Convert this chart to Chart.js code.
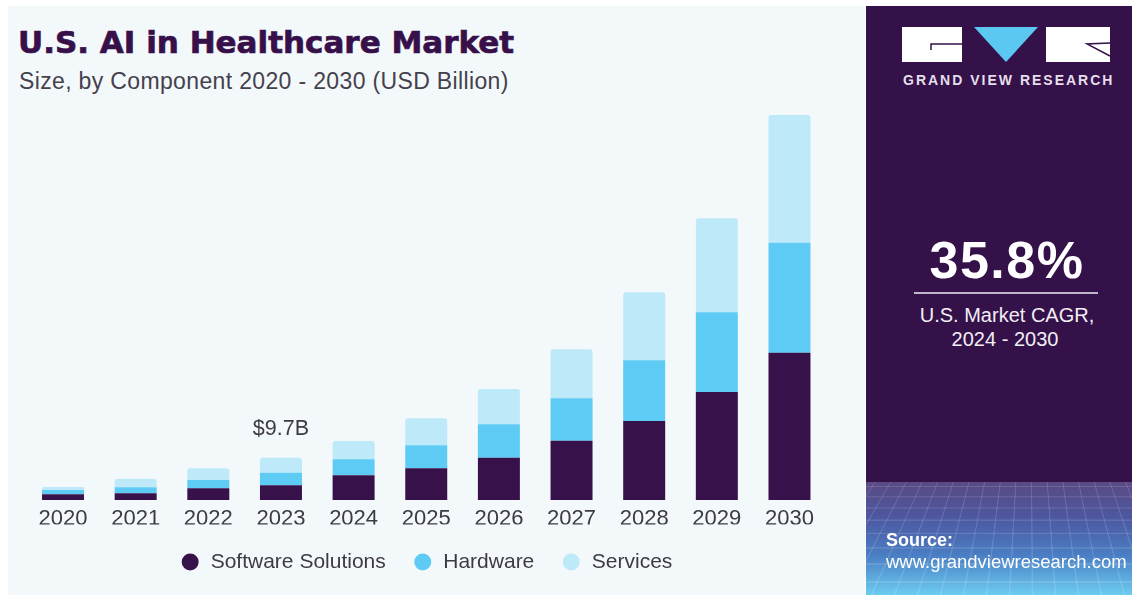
<!DOCTYPE html>
<html>
<head>
<meta charset="utf-8">
<script src="https://cdn.jsdelivr.net/npm/chart.js@4"></script>
<style>
  html, body { margin: 0; padding: 0; background: #fff; }
  body { width: 1132px; height: 595px; position: relative; overflow: hidden; font-family: "Liberation Sans", Arial, sans-serif; }
  #bg { position: absolute; left: 8px; top: 6px; width: 857px; height: 589px; background: #f3f8fb; }
  #title { position: absolute; left: 18px; top: 27px; font: bold 31px/31px "DejaVu Sans", sans-serif;
    color: #37104a; -webkit-text-stroke: 0.7px #37104a; white-space: nowrap; }
  #subtitle { position: absolute; left: 19px; top: 70px; font: 23px/23px "Liberation Sans", Arial, sans-serif; letter-spacing: 0.35px; color: #45414b; white-space: nowrap; }
  #chart { position: absolute; left: 8px; top: 100px; }
  #panel { position: absolute; left: 866px; top: 6px; width: 266px; height: 589px; background: #35114a; overflow: hidden; color: #fff; }
  #panel .t { position: absolute; white-space: nowrap; line-height: 1; }
  #brand { left: 37px; top: 67px; font: bold 14px/14px "Liberation Sans", Arial, sans-serif; letter-spacing: 2px; color: #e4dfea; }
  #cagr { left: 141px; top: 228px; transform: translateX(-50%); font: bold 52px/52px "Liberation Sans", Arial, sans-serif; letter-spacing: 1.5px; }
  #rule { position: absolute; left: 48px; top: 286px; width: 184px; height: 2px; background: #bfb6cb; }
  .sub { font: 20px/20px "Liberation Sans", Arial, sans-serif; color: #f1eef4; transform: translateX(-50%); }
  #floor { position: absolute; left: 0; top: 476px; width: 266px; height: 113px; overflow: hidden;
    background: linear-gradient(#5a4a84 0%, #4d569f 30%, #4a7ec4 65%, #6cccf0 100%); }
  #floor::before { content: ''; position: absolute; left: -120px; right: -120px; top: -10px; bottom: -60px;
    background-image:
      repeating-linear-gradient(90deg, rgba(255,255,255,0.13) 0 1px, transparent 1px 15px),
      repeating-linear-gradient(0deg, rgba(255,255,255,0.13) 0 1px, transparent 1px 11px);
    transform: perspective(180px) rotateX(38deg) skewX(-6deg); transform-origin: 50% 0; }
  #src { left: 20px; top: 525px; font: bold 18px/18px "Liberation Sans", Arial, sans-serif; }
  #url { left: 20px; top: 547px; font: 18.5px/18.5px "Liberation Sans", Arial, sans-serif; }
</style>
</head>
<body>
<div id="bg"></div>
<div id="title">U.S. AI in Healthcare Market</div>
<div id="subtitle">Size, by Component 2020 - 2030 (USD Billion)</div>
<canvas id="chart" width="857" height="495"></canvas>

<div id="panel">
  <svg style="position:absolute;left:34px;top:20px" width="214" height="40" viewBox="0 0 214 40">
    <rect x="2" y="1" width="60" height="35" fill="#fff"/>
    <path d="M31 24 L31 18 L62 18" stroke="#35114a" stroke-width="1.5" fill="none"/>
    <polygon points="74,1 138,1 106,36" fill="#5bc8f2"/>
    <rect x="146" y="1" width="64" height="35" fill="#fff"/>
    <path d="M210 17 L187 18 L210 30" stroke="#35114a" stroke-width="1.5" fill="none"/>
  </svg>
  <div class="t" id="brand">GRAND VIEW RESEARCH</div>
  <div class="t" id="cagr">35.8%</div>
  <div id="rule"></div>
  <div class="t sub" style="left:141px;top:299px">U.S. Market CAGR,</div>
  <div class="t sub" style="left:139px;top:323px">2024 - 2030</div>
  <div id="floor"></div>
  <div class="t" id="src">Source:</div>
  <div class="t" id="url">www.grandviewresearch.com</div>
</div>

<script>
// market size by component, USD billion
const years = ['2020', '2021', '2022', '2023', '2024', '2025', '2026', '2027', '2028', '2029', '2030'];
const software = [1.30, 1.54, 2.68, 3.37, 5.66, 7.27, 9.70, 13.60, 18.12, 24.77, 33.78];
const hardware = [0.99, 1.38, 1.90, 2.89, 3.67, 5.27, 7.66, 9.72, 13.92, 18.28, 25.23];
const services = [0.69, 1.97, 2.68, 3.44, 4.20, 6.19, 8.10, 11.24, 15.60, 21.56, 29.29];
const seriesNames = ['Software Solutions', 'Hardware', 'Services'];
const seriesColors = ['#37114a', '#5ecbf5', '#bde9f9'];
const labelYear = '2023';

const textColor = '#3d3a45';

// total value printed above one bar
const totalLabel = {
  id: 'totalLabel',
  afterDatasetsDraw(chart) {
    const i = years.indexOf(labelYear);
    const total = software[i] + hardware[i] + services[i];
    const x = chart.scales.x.getPixelForValue(i);
    const y = chart.scales.y.getPixelForValue(total);
    const ctx = chart.ctx;
    ctx.save();
    ctx.font = '21.5px "Liberation Sans", Arial, sans-serif';
    ctx.fillStyle = textColor;
    ctx.textAlign = 'center';
    ctx.textBaseline = 'alphabetic';
    ctx.fillText('$' + total.toFixed(1) + 'B', x, y - 22.5);
    ctx.restore();
  }
};

const datasets = [software, hardware, services].map((values, k) => ({
  label: seriesNames[k],
  data: values,
  backgroundColor: seriesColors[k],
  borderWidth: 0,
  borderRadius: k === 2 ? { topLeft: 3, topRight: 3, bottomLeft: 0, bottomRight: 0 } : 0,
  borderSkipped: false,
  barPercentage: 0.578,
  categoryPercentage: 1
}));

new Chart(document.getElementById('chart'), {
  type: 'bar',
  data: { labels: years, datasets: datasets },
  options: {
    responsive: false,
    animation: false,
    devicePixelRatio: 1,
    layout: { padding: { left: 18.7, right: 39.2, top: 7.6, bottom: 12.5 } },
    plugins: {
      tooltip: { enabled: false },
      legend: {
        position: 'bottom',
        labels: {
          usePointStyle: true,
          pointStyle: 'circle',
          boxWidth: 20,
          boxHeight: 12,
          padding: 27,
          color: textColor,
          font: { family: '"Liberation Sans", Arial, sans-serif', size: 21 }
        }
      }
    },
    scales: {
      x: {
        stacked: true,
        grid: { display: false, drawTicks: false },
        border: { display: false },
        ticks: {
          padding: 6,
          color: textColor,
          font: { family: '"Liberation Sans", Arial, sans-serif', size: 22 }
        },
        afterFit: (scale) => { scale.height = 24.5; }
      },
      y: {
        stacked: true,
        display: false,
        min: 0,
        max: 90
      }
    }
  },
  plugins: [totalLabel]
});
</script>
</body>
</html>
